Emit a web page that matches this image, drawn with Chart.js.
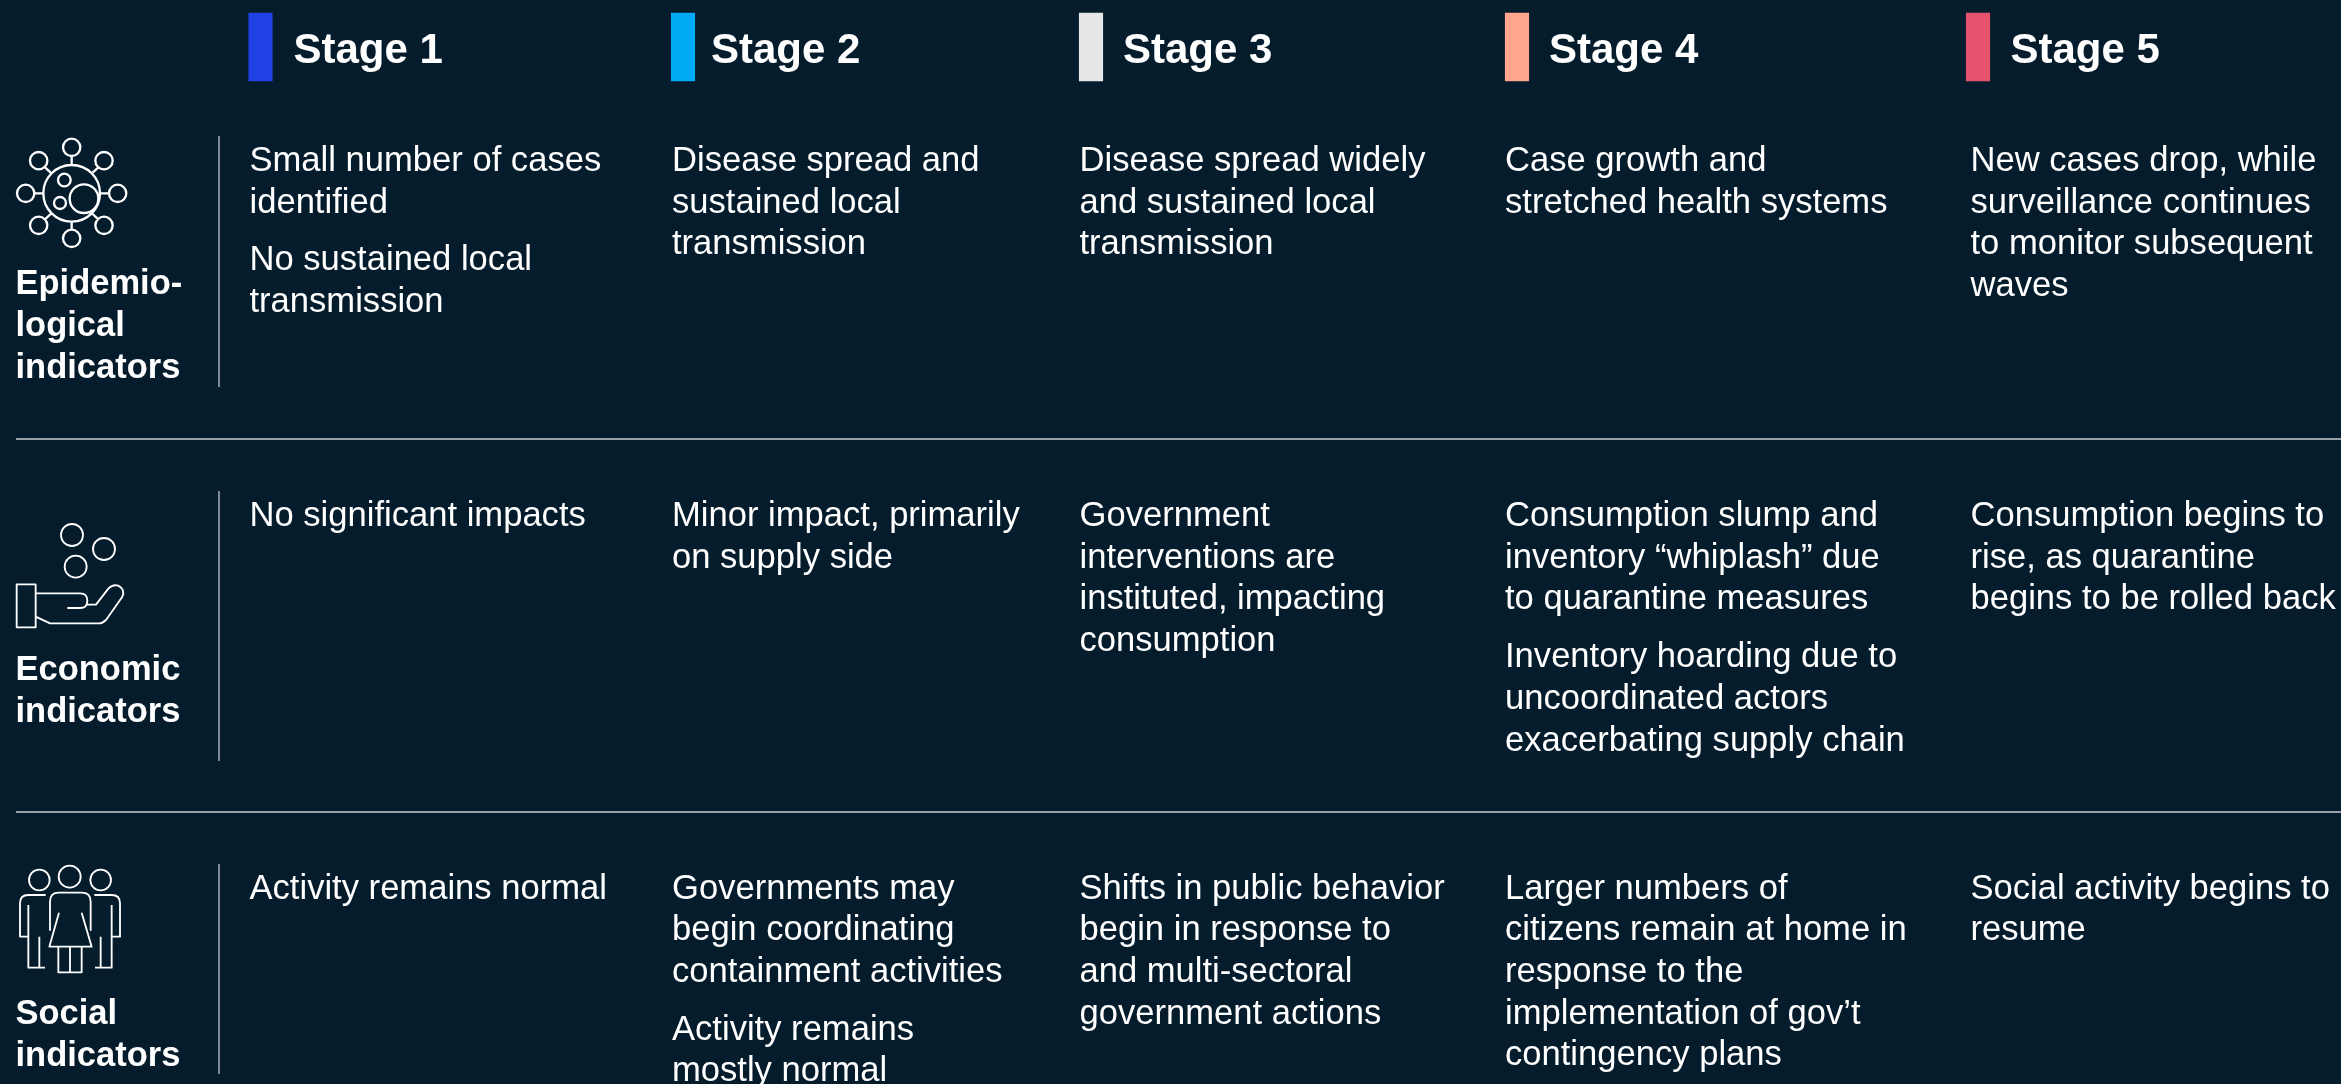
<!DOCTYPE html>
<html><head><meta charset="utf-8">
<style>html,body{margin:0;padding:0;background:#051C2C;overflow:hidden}canvas{display:block}</style>
<script src="https://cdn.jsdelivr.net/npm/chart.js@4"></script></head>
<body><canvas id="c" width="2341" height="1084"></canvas>
<script>
// ---- content ----
const stages = ['Stage 1','Stage 2','Stage 3','Stage 4','Stage 5'];
const stageColors = ['#2140E6','#00A9F4','#E6E6E6','#FFA58C','#E5546C'];
const rowLabels = [['Epidemio-','logical','indicators'],['Economic','indicators'],['Social','indicators']];
const epidemiological = [
  [['Small number of cases','identified'],['No sustained local','transmission']],
  [['Disease spread and','sustained local','transmission']],
  [['Disease spread widely','and sustained local','transmission']],
  [['Case growth and','stretched health systems']],
  [['New cases drop, while','surveillance continues','to monitor subsequent','waves']]
];
const economic = [
  [['No significant impacts']],
  [['Minor impact, primarily','on supply side']],
  [['Government','interventions are','instituted, impacting','consumption']],
  [['Consumption slump and','inventory “whiplash” due','to quarantine measures'],['Inventory hoarding due to','uncoordinated actors','exacerbating supply chain']],
  [['Consumption begins to','rise, as quarantine','begins to be rolled back']]
];
const social = [
  [['Activity remains normal']],
  [['Governments may','begin coordinating','containment activities'],['Activity remains','mostly normal']],
  [['Shifts in public behavior','begin in response to','and multi-sectoral','government actions']],
  [['Larger numbers of','citizens remain at home in','response to the','implementation of gov’t','contingency plans']],
  [['Social activity begins to','resume']]
];
const rows = [epidemiological, economic, social];

// ---- layout (separate from the content) ----
const W = 2341, H = 1084;
const BG = '#051C2C';
const barCenters = [260.5, 683, 1091, 1517, 1978];
const barSpan = [13, 81];
const headX = [293.5, 711, 1123, 1549, 2010.5];
const headBase = 63;
const colX = [249.5, 672, 1079.5, 1505, 1970.5];
const rowBase = [170.8, 526, 898.5];
const labelX = 15.5;
const labelBase = [294.3, 680, 1024];
const vRules = [[136,387],[491,761],[864,1074]];
const vRuleX = 219;
const hRuleY = [439, 812];
const LH = 41.7, PARA = 16;

// icons: SVG paths in 3x reference-pixel units, with their offset
const icons = [
 {ox:0, oy:120, w:7, d:
  'M215 135A85 85 0 1 0 215 305A85 85 0 1 0 215 135Z'+
  'M295 236A43 43 0 1 0 209 236A43 43 0 1 0 295 236Z'+
  'M212 180A19 19 0 1 0 174 180A19 19 0 1 0 212 180Z'+
  'M198 249A18 18 0 1 0 162 249A18 18 0 1 0 198 249Z'+
  'M241 82A26 26 0 1 0 189 82A26 26 0 1 0 241 82Z'+
  'M241 355A26 26 0 1 0 189 355A26 26 0 1 0 241 355Z'+
  'M103 220A26 26 0 1 0 51 220A26 26 0 1 0 103 220Z'+
  'M379 220A26 26 0 1 0 327 220A26 26 0 1 0 379 220Z'+
  'M338 122A26 26 0 1 0 286 122A26 26 0 1 0 338 122Z'+
  'M142 122A26 26 0 1 0 90 122A26 26 0 1 0 142 122Z'+
  'M142 316A26 26 0 1 0 90 316A26 26 0 1 0 142 316Z'+
  'M338 316A26 26 0 1 0 286 316A26 26 0 1 0 338 316Z'+
  'M215 108V135M215 305V330M103 220H130M300 220H327'+
  'M152 158L135 142M278 158L295 142M152 282L135 298M278 282L295 298'},
 {ox:0, oy:480, w:5.5, d:
  'M249 165A33 33 0 1 0 183 165A33 33 0 1 0 249 165Z'+
  'M345 207A33 33 0 1 0 279 207A33 33 0 1 0 345 207Z'+
  'M260 260A33 33 0 1 0 194 260A33 33 0 1 0 260 260Z'+
  'M50 313H107V442H50Z'+
  'M107 340H240Q262 340 262 362Q262 384 240 384H202'+
  'M260 374H288L325 326Q338 312 355 317Q378 330 366 352L318 420Q308 430 296 430H150L107 410'},
 {ox:0, oy:840, w:5.5, d:
  'M149 120A31 31 0 1 0 87 120A31 31 0 1 0 149 120Z'+
  'M242 110A33 33 0 1 0 176 110A33 33 0 1 0 242 110Z'+
  'M333 120A31 31 0 1 0 271 120A31 31 0 1 0 333 120Z'+
  'M150 272V185Q150 158 176 158H245Q272 158 272 185V272'+
  'M177 218L148 320H275L245 218'+
  'M175 320V397H245V320M210 320V397'+
  'M137 165H85Q60 165 60 190V290H85V195M85 290V383H135M118 290V383'+
  'M283 165H335Q360 165 360 190V290H335V195M335 290V383H285M302 290V383'}
];

const paint = {
  id:'paint',
  beforeDraw(chart){
    const c = chart.ctx;
    c.save(); c.fillStyle = BG; c.fillRect(0,0,W,H); c.restore();
  },
  afterDraw(chart){
    const c = chart.ctx, sx = chart.scales.x, sy = chart.scales.y;
    const px = v => sx.getPixelForValue(v), py = v => sy.getPixelForValue(v);
    c.save();
    c.fillStyle = '#FFFFFF';
    c.textAlign = 'left'; c.textBaseline = 'alphabetic';
    c.font = 'bold 42px "Liberation Sans"';
    stages.forEach((s,i)=>c.fillText(s, px(headX[i]), py(headBase)));
    c.font = 'bold 34.5px "Liberation Sans"';
    rowLabels.forEach((ls,r)=>ls.forEach((l,k)=>c.fillText(l, px(labelX), py(labelBase[r]+k*LH))));
    c.font = '34.6px "Liberation Sans"';
    rows.forEach((row,r)=>row.forEach((cell,col)=>{
      let y = rowBase[r];
      cell.forEach(par=>{
        par.forEach(line=>{ c.fillText(line, px(colX[col]), py(y)); y += LH; });
        y += PARA;
      });
    }));
    c.strokeStyle = '#FFFFFF'; c.lineJoin='round';
    icons.forEach(ic=>{
      c.save();
      c.translate(px(ic.ox), py(ic.oy)); c.scale(1/3,1/3);
      c.lineWidth = ic.w; c.stroke(new Path2D(ic.d));
      c.restore();
    });
    c.restore();
  }
};

const lineSet = (pts,color) => ({type:'line',data:pts,borderColor:color,borderWidth:1.6,pointRadius:0,fill:false,tension:0,order:2});
const datasets = [
  {type:'bar',
   data: barCenters.map(x=>({x, y:barSpan})),
   backgroundColor: stageColors, borderWidth:0, barThickness:23.5, grouped:false, order:1},
  ...vRules.map(v=>lineSet([{x:vRuleX,y:v[0]},{x:vRuleX,y:v[1]}],'#9DA6AC')),
  ...hRuleY.map(y=>lineSet([{x:16,y},{x:W,y}],'#C9CDD0'))
];
new Chart(document.getElementById('c'),{
  data:{datasets},
  options:{
    responsive:false, animation:false, devicePixelRatio:1,
    layout:{padding:0},
    plugins:{legend:{display:false},tooltip:{enabled:false},title:{display:false}},
    scales:{
      x:{type:'linear',min:0,max:W,display:false,offset:false,grid:{display:false}},
      y:{type:'linear',min:0,max:H,reverse:true,display:false,grid:{display:false}}
    }
  },
  plugins:[paint]
});
</script></body></html>
